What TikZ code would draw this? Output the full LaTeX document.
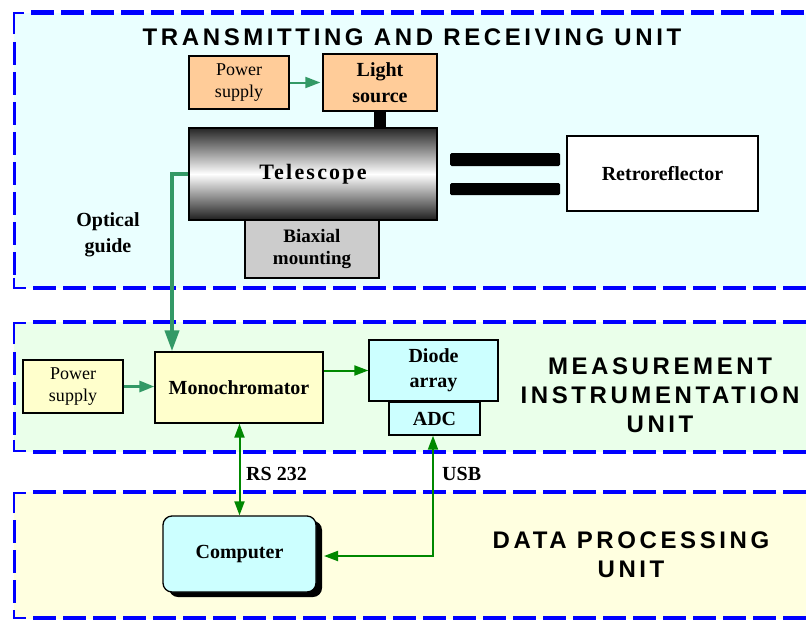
\documentclass[tikz,border=0pt]{standalone}
\usepackage{fontspec}
\setmainfont{Liberation Serif}
\newfontfamily\unitfont[LetterSpace=15]{Liberation Sans}
\newfontfamily\telfont[LetterSpace=10]{Liberation Serif}
\usetikzlibrary{arrows.meta}
\definecolor{topbg}{HTML}{EAFFFF}
\definecolor{midbg}{HTML}{EAFFEA}
\definecolor{botbg}{HTML}{FFFFE0}
\definecolor{dashblue}{HTML}{0000FF}
\definecolor{orangefill}{HTML}{FFCC99}
\definecolor{yellowfill}{HTML}{FFFFCC}
\definecolor{cyanfill}{HTML}{CCFFFF}
\definecolor{grayfill}{HTML}{CCCCCC}
\definecolor{sea}{HTML}{339966}
\definecolor{dgreen}{HTML}{008800}
\newcommand\boldlab{\fontsize{20}{24}\selectfont\bfseries}
\newcommand\plainlab{\fontsize{18}{22}\selectfont}
\newcommand\unitlab{\fontsize{24}{29}\selectfont\unitfont\bfseries}
\begin{document}
\begin{tikzpicture}[x=1pt,y=-1pt,
  box/.style={draw=black, line width=1.3, align=center, inner sep=0pt, font=\boldlab},
  thickdash/.style={dashblue, line width=4.5, dash pattern=on 23pt off 7pt},
  thindash/.style={dashblue, line width=3, dash pattern=on 23pt off 7pt},
  corner/.style={dashblue, line width=2.5},
  seaarrow/.style={sea, line width=2.5, -{Triangle[length=15pt,width=11pt]}},
  greenarrow/.style={dgreen, line width=2, -{Triangle[length=14pt,width=10pt]}},
  unittitle/.style={font=\unitlab, align=center, inner sep=0pt},
  lab/.style={font=\boldlab, inner sep=0pt, align=center}]
\useasboundingbox (0,0) rectangle (806,619);
% panel backgrounds
\fill[topbg] (14,12.5) rectangle (806,288);
\fill[midbg] (14,322) rectangle (806,452);
\fill[botbg] (14,492) rectangle (806,619);
% panel borders
\draw[thickdash] (31,12.5) -- (806,12.5);
\draw[thickdash] (33,288) -- (806,288);
\draw[corner] (14,34) -- (14,13) -- (24,13);
\draw[corner] (14,278) -- (14,288) -- (26,288);
\draw[thindash] (14,42) -- (14,275);
\draw[thickdash] (33,322) -- (806,322);
\draw[thickdash] (33,452) -- (806,452);
\draw[corner] (14,344) -- (14,323) -- (26,323);
\draw[corner] (14,440) -- (14,451) -- (26,451);
\draw[thindash] (14,352) -- (14,435);
\draw[thickdash] (33,492) -- (806,492);
\draw[thickdash] (33,618) -- (806,618);
\draw[corner] (14,513) -- (14,493) -- (26,493);
\draw[corner] (14,610) -- (14,618) -- (26,618);
\draw[thindash] (14,520) -- (14,605);
% titles
\node[unittitle] (t1) at (412,37) {TRANSMITTING AND RECEIVING UNIT};
\node[unittitle] (t2) at (660,395) {MEASUREMENT\\INSTRUMENTATION\\UNIT};
\node[unittitle] (t3) at (631,555) {DATA PROCESSING\\UNIT};
% transmitting and receiving unit
\node[box, fill=orangefill, minimum width=100pt, minimum height=53pt, font=\plainlab] (ps1) at (239,82.5) {Power\\supply};
\node[box, fill=orangefill, minimum width=114pt, minimum height=57pt, font=\fontsize{20}{26}\selectfont\bfseries] (ls) at (380,82.5) {Light\\source};
\node[box, minimum width=248pt, minimum height=92pt, top color=black!85, bottom color=black!88, middle color=white, font=\fontsize{22}{24}\selectfont\telfont\bfseries] (tel) at (313,174) {Telescope};
\node[box, fill=grayfill, minimum width=134pt, minimum height=58pt, font=\fontsize{19}{22}\selectfont\bfseries] (bm) at (312,249) {Biaxial\\mounting};
\node[box, fill=white, minimum width=191pt, minimum height=75pt] (rr) at (662.5,173.5) {Retroreflector};
\fill[black, rounded corners=1.5pt] (450,153) rectangle (560,166);
\fill[black, rounded corners=1.5pt] (450,183) rectangle (560,195);
\draw[black, line width=12] (ls.south) -- (ls.south |- tel.north);
\draw[seaarrow, line width=2, shorten >=2pt] (ps1.east) -- (ls.west);
\node[lab, font=\fontsize{20}{26}\selectfont\bfseries] (og) at (108,235) {Optical\\guide};
% measurement instrumentation unit
\node[box, fill=yellowfill, minimum width=168pt, minimum height=71pt] (mono) at (239,387.5) {Monochromator};
\node[box, fill=yellowfill, minimum width=100pt, minimum height=53pt, font=\plainlab] (ps2) at (73,386.5) {Power\\supply};
\node[box, fill=cyanfill, minimum width=129pt, minimum height=61pt, font=\fontsize{20}{25}\selectfont\bfseries] (da) at (433.5,370.5) {Diode\\array};
\node[box, fill=cyanfill, minimum width=91pt, minimum height=33pt] (adc) at (434.5,418.5) {ADC};
\coordinate (ogc) at (172,174);
\draw[sea, line width=4, -{Triangle[length=21pt,width=14pt]}] (tel.west) -- (ogc) -- (ogc |- mono.north);
\draw[seaarrow, line width=3] (ps2.east) -- (ps2.east -| mono.west);
\draw[greenarrow] (mono.east |- da.west) -- (da.west);
% data processing unit
\fill[black, rounded corners=9pt] (169,521) rectangle (322,597);
\node[box, fill=cyanfill, minimum width=153pt, minimum height=76pt, rounded corners=9pt] (comp) at (239.5,554) {Computer};
\draw[greenarrow, {Triangle[length=14pt,width=10pt]}-{Triangle[length=14pt,width=10pt]}] (mono.south -| comp.north) -- (comp.north);
\coordinate (usbc) at (433,556);
\draw[greenarrow, {Triangle[length=14pt,width=10pt]}-{Triangle[length=14pt,width=10pt]}] (adc.south -| usbc) -- (usbc) -- (324,556);
\node[lab, anchor=west] (rs) at (246,474) {RS 232};
\node[lab, anchor=west] (usb) at (442,474) {USB};
\end{tikzpicture}
\end{document}
